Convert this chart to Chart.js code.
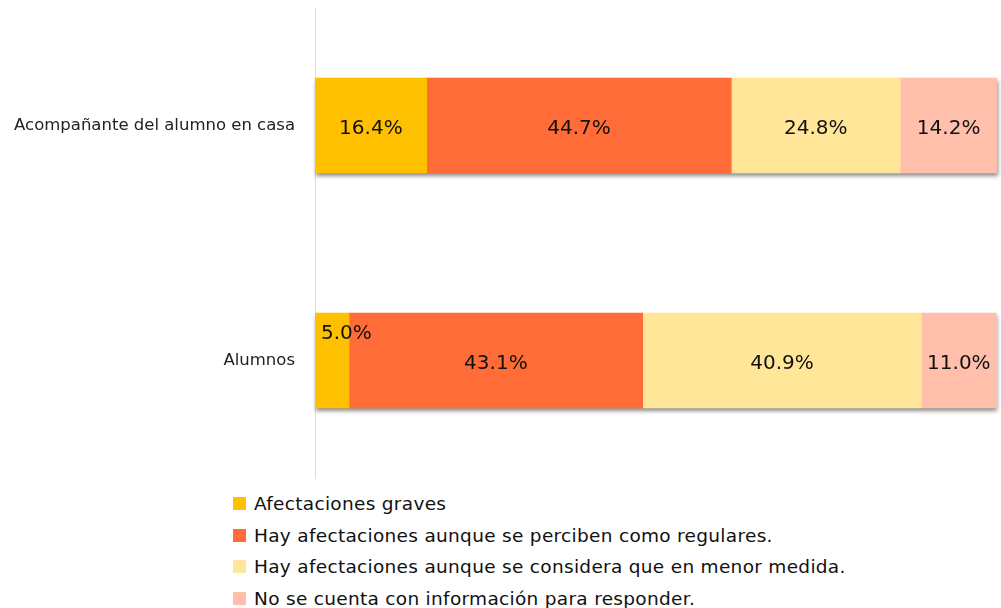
<!DOCTYPE html>
<html lang="es">
	<head>
		<meta charset="UTF-8">
		<script src="https://cdn.jsdelivr.net/npm/chart.js@4.4.1/dist/chart.umd.min.js"></script>
		<title>Afectaciones</title>
		<style>
			body { margin: 0; background: #fff; font-family: "DejaVu Sans", sans-serif; }
			#chart-box { position: absolute; left: 0; top: 0; width: 1001px; height: 480px; }
			#legend { position: absolute; left: 233px; top: 488px; font-size: 18.5px; letter-spacing: 0.3px; color: #111; }
			#legend div { height: 31.7px; line-height: 31.7px; white-space: nowrap; }
			#legend span.box { display: inline-block; width: 13px; height: 13px; margin-right: 8px; vertical-align: 0px; }
		</style>
	</head>
	<body>
		<div id="chart-box"><canvas id="bar-chart"></canvas></div>
		<div id="legend"></div>
		<script>
			// data
			var groups = ["Acompañante del alumno en casa", "Alumnos"];
			var seriesNames = [
				"Afectaciones graves",
				"Hay afectaciones aunque se perciben como regulares.",
				"Hay afectaciones aunque se considera que en menor medida.",
				"No se cuenta con información para responder."
			];
			var graves = [16.4, 5.0];
			var regulares = [44.7, 43.1];
			var menorMedida = [24.8, 40.9];
			var sinInfo = [14.2, 11.0];
			var colours = ["#FFC000", "#FF6C37", "#FFE699", "#FFBFAA"];

			var seriesValues = [graves, regulares, menorMedida, sinInfo];
			var datasets = [];
			for (var i = 0; i < seriesValues.length; i++) {
				datasets.push({
					label: seriesNames[i],
					data: seriesValues[i],
					backgroundColor: colours[i],
					borderWidth: 0,
					barThickness: 95
				});
			}

			// shadow behind each whole bar, then the % labels on top
			var barDecor = {
				id: 'barDecor',
				beforeDatasetsDraw(chart) {
					var ctx = chart.ctx;
					var last = chart.getDatasetMeta(chart.data.datasets.length - 1).data;
					var x0 = chart.scales.x.getPixelForValue(0);
					ctx.save();
					ctx.shadowColor = "rgba(0,0,0,0.45)";
					ctx.shadowBlur = 4;
					ctx.shadowOffsetX = 1;
					ctx.shadowOffsetY = 3;
					ctx.fillStyle = "#fff";
					for (var j = 0; j < last.length; j++) {
						var b = last[j];
						ctx.fillRect(x0, b.y - b.height / 2, b.x - x0, b.height);
					}
					ctx.restore();
				},
				afterDatasetsDraw(chart) {
					var ctx = chart.ctx;
					ctx.save();
					ctx.font = '20px "DejaVu Sans"';
					ctx.fillStyle = "#111";
					ctx.textBaseline = "middle";
					chart.data.datasets.forEach(function (ds, i) {
						chart.getDatasetMeta(i).data.forEach(function (bar, j) {
							var txt = ds.data[j].toFixed(1) + "%";
							var w = Math.abs(bar.x - bar.base);
							var tw = ctx.measureText(txt).width;
							if (tw + 8 < w) {
								ctx.textAlign = "center";
								ctx.fillText(txt, (bar.x + bar.base) / 2, bar.y + 3);
							} else {
								ctx.textAlign = "left";
								ctx.fillText(txt, bar.base + 6, bar.y - bar.height / 2 + 21);
							}
						});
					});
					ctx.restore();
				}
			};

			new Chart(document.getElementById("bar-chart"), {
				type: 'bar',
				data: { labels: groups, datasets: datasets },
				options: {
					indexAxis: 'y',
					responsive: true,
					maintainAspectRatio: false,
					animation: false,
					layout: { padding: { top: 8, right: 4, bottom: 2, left: 0 } },
					plugins: {
						legend: { display: false },
						tooltip: { enabled: false }
					},
					scales: {
						x: { stacked: true, min: 0, max: 100.1, display: false },
						y: {
							stacked: true,
							afterFit: function (scale) {
								scale.width = 315;
								scale.paddingTop = 0;
								scale.paddingBottom = 0;
							},
							grid: { display: true, color: 'transparent', drawTicks: true, tickLength: 20, drawOnChartArea: false },
							border: { display: true, color: '#E0D8F5', width: 1 },
							ticks: { padding: 0, color: '#222', font: { family: 'DejaVu Sans', size: 16.5 } }
						}
					}
				},
				plugins: [barDecor]
			});

			var legendHtml = "";
			for (var k = 0; k < seriesNames.length; k++) {
				legendHtml += '<div><span class="box" style="background:' + colours[k] + '"></span>' + seriesNames[k] + '</div>';
			}
			document.getElementById("legend").innerHTML = legendHtml;
		</script>
	</body>
</html>
